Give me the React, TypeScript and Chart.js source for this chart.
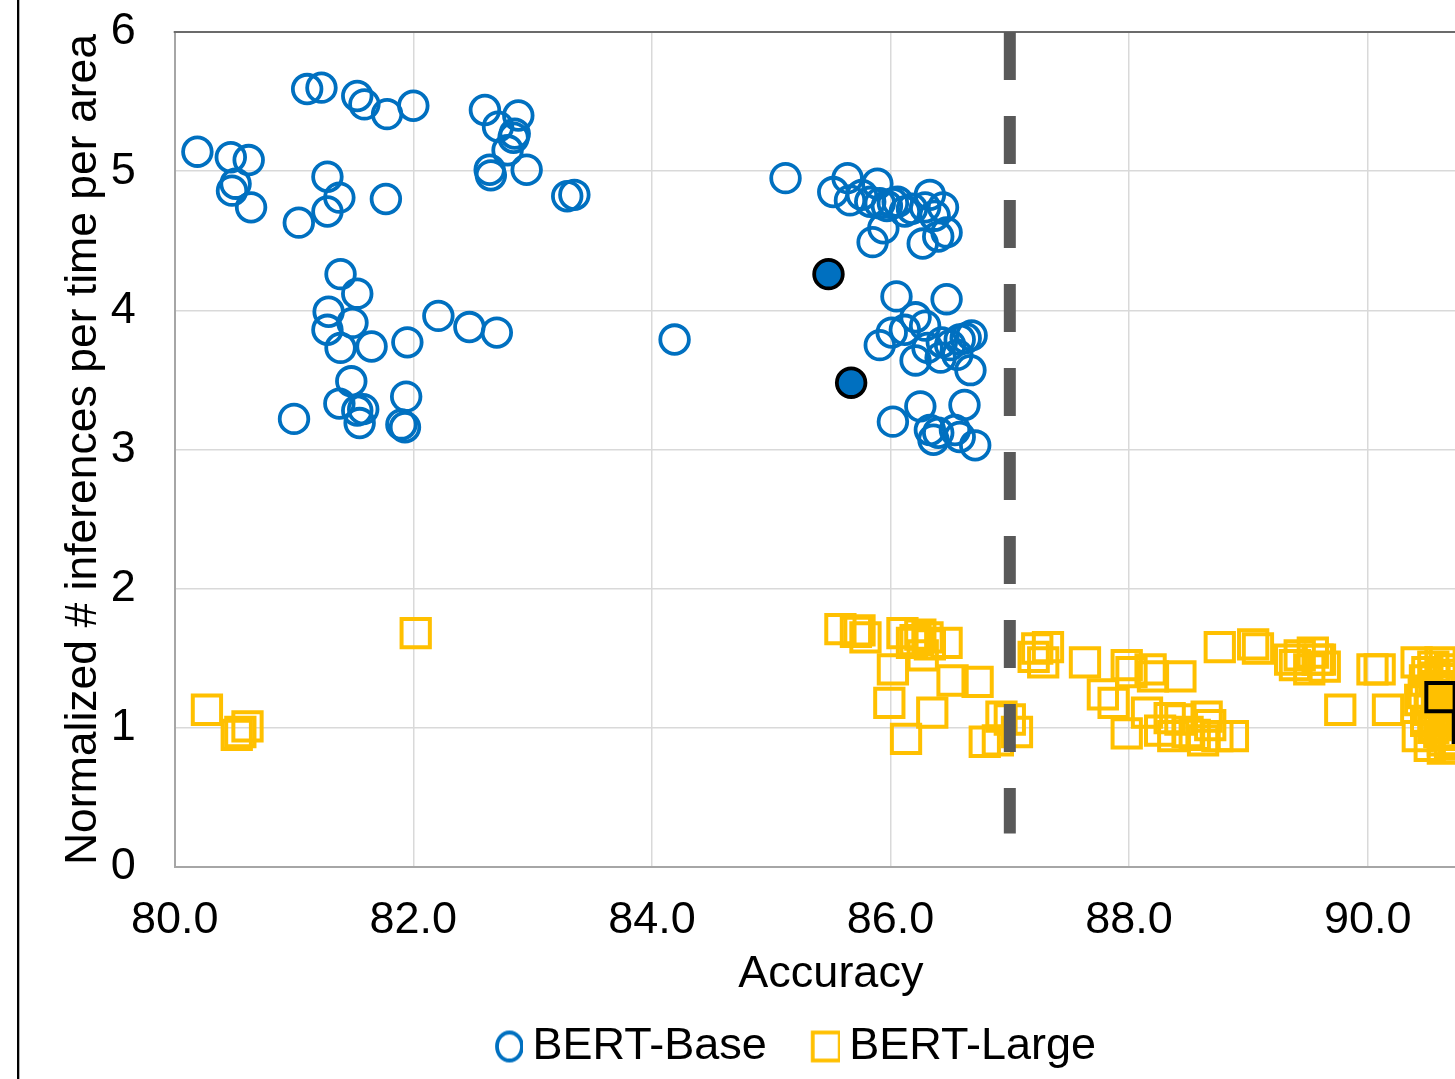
import React, { useEffect, useRef } from 'react';
import { Chart, registerables } from 'chart.js';

Chart.register(...registerables);

// ---- Data ----
const seriesNames = ['BERT-Base', 'BERT-Large'];

const baseAccuracy = [
  80.19, 80.47, 80.62, 80.51, 80.48, 80.64, 81.04, 81.11, 81.23, 81.53, 81.59, 81.78, 82.0, 81.28, 81.38, 81.28, 81.77,
  82.6, 82.71, 82.88, 82.85, 82.84, 82.79, 82.64, 82.65, 82.95, 83.29, 83.35,
  81.39, 81.53, 81.29, 81.28, 81.49, 81.39, 81.65, 81.95, 82.21, 82.47, 82.7,
  81.48, 81.38, 81.53, 81.58, 81.55, 81.0, 81.94, 81.9, 81.93,
  84.19, 85.12,
  85.52, 85.64, 85.66, 85.89, 85.83, 85.91, 85.97, 86.02, 86.06, 85.94, 85.85, 86.33, 86.44, 86.37, 86.4, 86.27, 86.18,
  85.76, 86.12, 86.47, 86.29,
  86.05, 86.47, 86.01, 86.21, 85.91, 86.21, 86.31, 86.43, 86.58, 86.68, 86.67, 86.56, 86.42,
  86.12, 86.29, 86.5, 86.63,
  86.25, 86.62, 86.02, 86.33, 86.36, 86.58, 86.71, 86.4, 86.54,
];
const baseThroughput = [
  5.14, 5.1, 5.08, 4.91, 4.86, 4.74, 4.63, 5.59, 5.6, 5.54, 5.48, 5.41, 5.47, 4.96, 4.81, 4.71, 4.8,
  5.44, 5.32, 5.4, 5.27, 5.24, 5.15, 5.01, 4.97, 5.01, 4.82, 4.83,
  4.26, 4.12, 3.99, 3.86, 3.91, 3.73, 3.74, 3.77, 3.96, 3.88, 3.84,
  3.49, 3.33, 3.28, 3.29, 3.19, 3.22, 3.38, 3.18, 3.16,
  3.79, 4.95,
  4.85, 4.95, 4.79, 4.91, 4.78, 4.77, 4.75, 4.77, 4.78, 4.59, 4.49, 4.83, 4.74, 4.68, 4.53, 4.48, 4.73,
  4.83, 4.71, 4.56, 4.74,
  4.1, 4.08, 3.84, 3.95, 3.75, 3.64, 3.73, 3.77, 3.79, 3.82, 3.57, 3.68, 3.66,
  3.86, 3.89, 3.75, 3.8,
  3.31, 3.32, 3.2, 3.14, 3.07, 3.09, 3.03, 3.12, 3.14,
];
const baseHighlightAccuracy = [85.48, 85.67];
const baseHighlightThroughput = [4.26, 3.48];

const largeAccuracy = [
  80.27, 80.52, 80.61, 80.55, 82.02,
  85.58, 85.71, 85.74, 85.79, 86.1, 86.18, 86.25, 86.31, 86.47, 86.27, 86.02, 86.52, 86.73, 85.99, 86.35, 86.13,
  86.93, 86.79, 86.9, 87.06, 87.0, 86.21, 86.33,
  87.23, 87.32, 87.28, 87.2, 87.63, 87.98, 88.02, 88.18, 88.43, 88.2, 87.78, 87.87, 87.98, 88.15, 88.34, 88.37,
  88.49, 88.65, 88.62, 88.74, 88.87, 88.26, 88.55, 88.43, 88.68,
  88.76, 89.04, 89.08, 89.35, 89.43, 89.54, 89.64, 89.6, 89.39, 89.58, 89.51, 89.77,
  90.04, 90.1, 90.17, 90.41, 90.55, 90.42, 90.63,
  90.48, 90.61, 90.69, 90.52, 90.65, 90.69, 90.44, 90.69, 90.61, 90.73, 90.57, 90.73,
  90.5, 90.56, 90.62, 90.68, 90.72, 90.47, 90.53, 90.58, 90.66, 90.71,
  90.49, 90.55, 90.6, 90.67, 90.72, 90.52, 90.63, 90.7, 90.59, 90.64,
];
const largeThroughput = [
  1.13, 0.95, 1.01, 0.97, 1.68,
  1.71, 1.69, 1.7, 1.65, 1.68, 1.61, 1.67, 1.65, 1.61, 1.52, 1.42, 1.34, 1.33, 1.18, 1.11, 0.92,
  1.08, 0.9, 0.91, 0.97, 1.06, 1.63, 1.6,
  1.57, 1.58, 1.47, 1.51, 1.47, 1.45, 1.4, 1.42, 1.37, 1.37, 1.24, 1.18, 0.96, 1.11, 1.07, 0.94,
  0.97, 1.08, 0.91, 0.94, 0.94, 0.98, 0.95, 1.06, 1.02,
  1.58, 1.6, 1.57, 1.49, 1.52, 1.54, 1.44, 1.49, 1.45, 1.49, 1.42, 1.13,
  1.42, 1.42, 1.13, 1.47, 1.44, 0.94, 0.91,
  1.34, 1.27, 1.2, 1.13, 1.06, 0.88, 1.2, 1.42, 1.47, 1.27, 1.02, 0.91,
  1.4, 1.36, 1.38, 1.35, 1.3, 1.25, 1.22, 1.18, 1.16, 1.12,
  1.05, 1.0, 0.97, 0.95, 0.9, 0.87, 0.85, 1.05, 1.3, 1.08,
];
const largeHighlightAccuracy = [90.61, 90.84];
const largeHighlightThroughput = [1.22, 1.0];

const thresholdAccuracy = [87, 87];
const thresholdRange = [6, 0.24];

const xMin = 80;
const xMax = 91;
const xStep = 2;
const yMin = 0;
const yMax = 6;
const yStep = 1;

const xTitle = 'Accuracy';
const yTitle = 'Normalized # inferences per time per area';

// ---- Styles ----
const BLUE = '#0070C0';
const GOLD = '#FFC000';
const FONT = '"Liberation Sans", Arial, Helvetica, sans-serif';
const FS = 45;
const CLEAR = 'rgba(0,0,0,0)';

const toPoints = (xs: number[], ys: number[]) => xs.map((x, i) => ({ x, y: ys[i] }));

function makeMarker(kind: 'circle' | 'rect', color: string): HTMLCanvasElement {
  const c = document.createElement('canvas');
  c.width = 70;
  c.height = 36;
  const g = c.getContext('2d')!;
  g.strokeStyle = color;
  if (kind === 'circle') {
    g.lineWidth = 3.8;
    g.beginPath();
    g.ellipse(56.5, 18, 12.5, 14, 0, 0, Math.PI * 2);
    g.stroke();
  } else {
    g.lineWidth = 3.8;
    g.strokeRect(56.5 - 13.5, 18 - 14, 27, 28);
  }
  return c;
}

const framePlugin = {
  id: 'frameLines',
  beforeDatasetsDraw(chart: any) {
    const { ctx, chartArea } = chart;
    ctx.save();
    ctx.strokeStyle = '#6b6b6b';
    ctx.lineWidth = 2;
    ctx.beginPath();
    ctx.moveTo(chartArea.left - 1, chartArea.top);
    ctx.lineTo(chartArea.right, chartArea.top);
    ctx.stroke();
    ctx.restore();
  },
  afterDraw(chart: any) {
    const { ctx, height } = chart;
    ctx.save();
    ctx.fillStyle = '#000';
    ctx.fillRect(1, 0, 2.3, height);
    ctx.restore();
  },
};

export default function App() {
  const ref = useRef<HTMLCanvasElement | null>(null);

  useEffect(() => {
    if (!ref.current) return;
    const markers: Record<string, HTMLCanvasElement> = {
      'BERT-Base': makeMarker('circle', BLUE),
      'BERT-Large': makeMarker('rect', GOLD),
    };

    const chart = new Chart(ref.current, {
      type: 'scatter',
      data: {
        datasets: [
          {
            label: seriesNames[0],
            data: toPoints(baseAccuracy, baseThroughput),
            pointStyle: 'circle',
            pointRadius: 14.3,
            borderColor: BLUE,
            backgroundColor: CLEAR,
            borderWidth: 3.8,
            order: 2,
          },
          {
            label: seriesNames[1],
            data: toPoints(largeAccuracy, largeThroughput),
            pointStyle: 'rect',
            pointRadius: 20,
            borderColor: GOLD,
            backgroundColor: CLEAR,
            borderWidth: 4,
            order: 2,
          },
          {
            label: 'BERT-Base (selected)',
            data: toPoints(baseHighlightAccuracy, baseHighlightThroughput),
            pointStyle: 'circle',
            pointRadius: 14.3,
            borderColor: '#000',
            backgroundColor: BLUE,
            borderWidth: 3.8,
            order: 1,
          },
          {
            label: 'BERT-Large (selected)',
            data: toPoints(largeHighlightAccuracy, largeHighlightThroughput),
            pointStyle: 'rect',
            pointRadius: 20,
            borderColor: '#000',
            backgroundColor: GOLD,
            borderWidth: 4,
            order: 1,
          },
          {
            label: 'Threshold',
            data: toPoints(thresholdAccuracy, thresholdRange),
            showLine: true,
            pointRadius: 0,
            borderColor: '#595959',
            backgroundColor: '#595959',
            borderWidth: 12,
            borderDash: [48, 36],
            borderCapStyle: 'butt',
            order: 0,
          } as any,
        ],
      },
      options: {
        responsive: false,
        animation: false,
        devicePixelRatio: 1,
        events: [],
        layout: { padding: { left: 59, right: 69, top: 32, bottom: 0 } },
        scales: {
          x: {
            type: 'linear',
            min: xMin,
            max: xMax,
            grid: { color: '#d9d9d9', lineWidth: 1.5, drawTicks: true, tickLength: 27, tickColor: CLEAR },
            border: { color: '#a6a6a6', width: 2 },
            ticks: {
              stepSize: xStep,
              includeBounds: false,
              padding: 0,
              color: '#000',
              font: { family: FONT, size: FS },
              callback: (v: any) => Number(v).toFixed(1),
            },
            title: {
              display: true,
              text: xTitle,
              color: '#000',
              font: { family: FONT, size: FS },
              padding: { top: 0, bottom: 6 },
            },
          },
          y: {
            type: 'linear',
            min: yMin,
            max: yMax,
            grid: { color: '#d9d9d9', lineWidth: 1.5, drawTicks: true, tickLength: 39, tickColor: CLEAR },
            border: { color: '#a6a6a6', width: 2 },
            ticks: {
              stepSize: yStep,
              padding: 0,
              color: '#000',
              font: { family: FONT, size: FS },
              callback: (v: any) => String(Number(v)),
            },
            title: {
              display: true,
              text: yTitle,
              color: '#000',
              font: { family: FONT, size: 44.5 },
              padding: { top: -18, bottom: 0.3 },
            },
          },
        },
        plugins: {
          tooltip: { enabled: false },
          legend: {
            position: 'bottom',
            labels: {
              usePointStyle: true,
              pointStyleWidth: 44,
              padding: 16,
              color: '#000',
              font: { family: FONT, size: FS },
              generateLabels: (c: any) => {
                const items = (Chart.defaults.plugins.legend.labels as any).generateLabels(c);
                return items
                  .filter((it: any) => seriesNames.includes(it.text))
                  .map((it: any) => ({ ...it, pointStyle: markers[it.text] }));
              },
            },
          },
        },
      },
      plugins: [framePlugin],
    } as any);

    return () => chart.destroy();
  }, []);

  return (
    <div
      style={{
        position: 'fixed',
        left: 0,
        top: 0,
        width: 1455,
        height: 1079,
        overflow: 'hidden',
        background: '#fff',
      }}
    >
      <canvas
        ref={ref}
        width={1540}
        height={1079}
        style={{ position: 'absolute', left: 16, top: 0, width: 1540, height: 1079 }}
      />
    </div>
  );
}
